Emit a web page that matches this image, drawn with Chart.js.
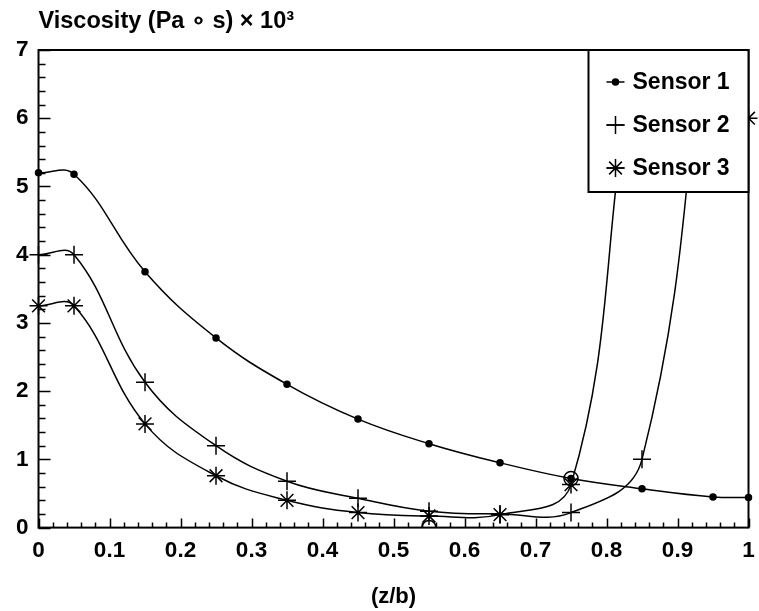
<!DOCTYPE html>
<html>
<head>
<meta charset="utf-8">
<script src="https://cdn.jsdelivr.net/npm/chart.js@4/dist/chart.umd.min.js"></script>
<style>
  html, body { margin: 0; padding: 0; background: #fff; }
  #wrap { width: 759px; height: 611px; position: relative; }
</style>
</head>
<body>
<div id="wrap"><canvas id="chart"></canvas></div>
<script>
// values
const zb = [0, 0.05, 0.15, 0.25, 0.35, 0.45, 0.55, 0.65, 0.75, 0.85, 0.95, 1.0];
const sensor1 = [5.2, 5.18, 3.75, 2.78, 2.1, 1.59, 1.23, 0.95, 0.72, 0.57, 0.45, 0.44];
const sensor2 = [4.0, 4.0, 2.13, 1.2, 0.68, 0.43, 0.24, 0.2, 0.22, 1.0, 8.5, 12.0];
const sensor3 = [3.25, 3.25, 1.52, 0.76, 0.4, 0.22, 0.17, 0.19, 0.63, 7.2, 9.0, 6.0];
const seriesNames = ['Sensor 1', 'Sensor 2', 'Sensor 3'];
// two stray open circles in the original
const circleX = [0.55, 0.75];
const circleY = [0.0, 0.72];

const xTicks = [0, 0.1, 0.2, 0.3, 0.4, 0.5, 0.6, 0.7, 0.8, 0.9, 1];
const xTickLabels = ['0', '0.1', '0.2', '0.3', '0.4', '0.5', '0.6', '0.7', '0.8', '0.9', '1'];
const yTicks = [0, 1, 2, 3, 4, 5, 6, 7];
const yTickLabels = ['0', '1', '2', '3', '4', '5', '6', '7'];

const yTitle = 'Viscosity (Pa \u2218 s) \u00d7 10\u00b3';
const xTitle = '(z/b)';

const FONT = "'Liberation Sans', Arial, Helvetica, sans-serif";

function pts(ys) {
  return zb.map((x, i) => ({ x: x, y: ys[i] }));
}

function series(label, ys, style, radius) {
  return {
    label: label,
    data: pts(ys),
    borderColor: '#000',
    backgroundColor: '#000',
    borderWidth: 1.5,
    pointStyle: style,
    pointRadius: radius,
    pointBorderWidth: 1.5,
    tension: 0.4,
    clip: { left: 10, right: 10, top: 0, bottom: 10 }
  };
}

// inward ticks, frame, legend box and the top-left title
const decor = {
  id: 'decor',
  afterDatasetsDraw(chart) {
    const { ctx, chartArea: a, scales } = chart;
    const xs = scales.x, ys = scales.y;
    ctx.save();
    ctx.strokeStyle = '#000';
    ctx.lineWidth = 1.5;
    ctx.beginPath();
    // y: minor every 0.2
    for (let i = 0; i <= 35; i++) {
      const py = Math.round(ys.getPixelForValue(i / 5)) + 0.5;
      const len = i % 5 === 0 ? 12 : 7;
      ctx.moveTo(a.left, py);
      ctx.lineTo(a.left + len, py);
    }
    // x: minor every 0.02
    for (let i = 0; i <= 50; i++) {
      const px = Math.round(xs.getPixelForValue(i / 50)) + 0.5;
      const len = i % 5 === 0 ? 9 : 5;
      ctx.moveTo(px, a.bottom);
      ctx.lineTo(px, a.bottom - len);
    }
    ctx.stroke();

    ctx.lineWidth = 2;
    ctx.strokeRect(a.left, a.top, a.right - a.left, a.bottom - a.top);

    // legend
    const w = 160, h = 142;
    const x0 = a.right - w, y0 = a.top;
    ctx.fillStyle = '#fff';
    ctx.fillRect(x0, y0, w, h);
    ctx.strokeRect(x0, y0, w, h);
    ctx.font = 'bold 23px ' + FONT;
    ctx.textBaseline = 'middle';
    chart.data.datasets.forEach((ds, i) => {
      if (!seriesNames.includes(ds.label)) return;
      const cy = y0 + 32 + i * 43;
      const cx = x0 + 27;
      ctx.strokeStyle = '#000';
      ctx.fillStyle = '#000';
      ctx.lineWidth = 1.5;
      ctx.beginPath();
      ctx.moveTo(cx - 9, cy);
      ctx.lineTo(cx + 9, cy);
      ctx.stroke();
      Chart.helpers.drawPoint(ctx, {
        pointStyle: ds.pointStyle, rotation: 0,
        radius: ds.pointRadius, borderWidth: 1.5
      }, cx, cy);
      ctx.fillStyle = '#000';
      ctx.fillText(ds.label, x0 + 44, cy + 1);
    });

    // title above the y axis
    ctx.font = 'bold 23.5px ' + FONT;
    ctx.textBaseline = 'alphabetic';
    ctx.textAlign = 'left';
    ctx.fillText(yTitle, a.left, 28);
    ctx.restore();
  }
};

const ctx = document.getElementById('chart').getContext('2d');
new Chart(ctx, {
  type: 'line',
  data: {
    datasets: [
      series(seriesNames[0], sensor1, 'circle', 3),
      series(seriesNames[1], sensor2, 'cross', 9),
      series(seriesNames[2], sensor3, 'star', 9),
      {
        label: 'open',
        data: circleX.map((x, i) => ({ x: x, y: circleY[i] })),
        showLine: false,
        pointStyle: 'circle',
        pointRadius: 7,
        borderColor: '#000',
        backgroundColor: 'rgba(0,0,0,0)',
        pointBorderWidth: 1.5,
        clip: { left: 0, right: 0, top: 0, bottom: 0 }
      }
    ]
  },
  options: {
    responsive: true,
    maintainAspectRatio: false,
    animation: false,
    events: [],
    layout: { padding: { left: 6, right: 0, top: 50, bottom: 1 } },
    plugins: {
      legend: { display: false },
      title: { display: false },
      tooltip: { enabled: false }
    },
    scales: {
      x: {
        type: 'linear',
        min: 0,
        max: 1,
        afterBuildTicks: s => { s.ticks = xTicks.map(v => ({ value: v })); },
        afterFit: s => { s.paddingRight = 7; },
        ticks: {
          callback: (v, i) => xTickLabels[i],
          color: '#000',
          font: { family: FONT, size: 22.5, weight: 'bold' },
          padding: 10,
          maxRotation: 0,
          autoSkip: false
        },
        grid: { display: false, drawTicks: false },
        border: { display: false },
        title: {
          display: true,
          text: xTitle,
          color: '#000',
          font: { family: FONT, size: 22, weight: 'bold' },
          padding: { top: 9, bottom: 0 }
        }
      },
      y: {
        type: 'linear',
        min: 0,
        max: 7,
        afterBuildTicks: s => { s.ticks = yTicks.map(v => ({ value: v })); },
        ticks: {
          callback: (v, i) => yTickLabels[i],
          color: '#000',
          font: { family: FONT, size: 22.5, weight: 'bold' },
          padding: 10,
          autoSkip: false
        },
        grid: { display: false, drawTicks: false },
        border: { display: false }
      }
    }
  },
  plugins: [decor]
});
</script>
</body>
</html>
